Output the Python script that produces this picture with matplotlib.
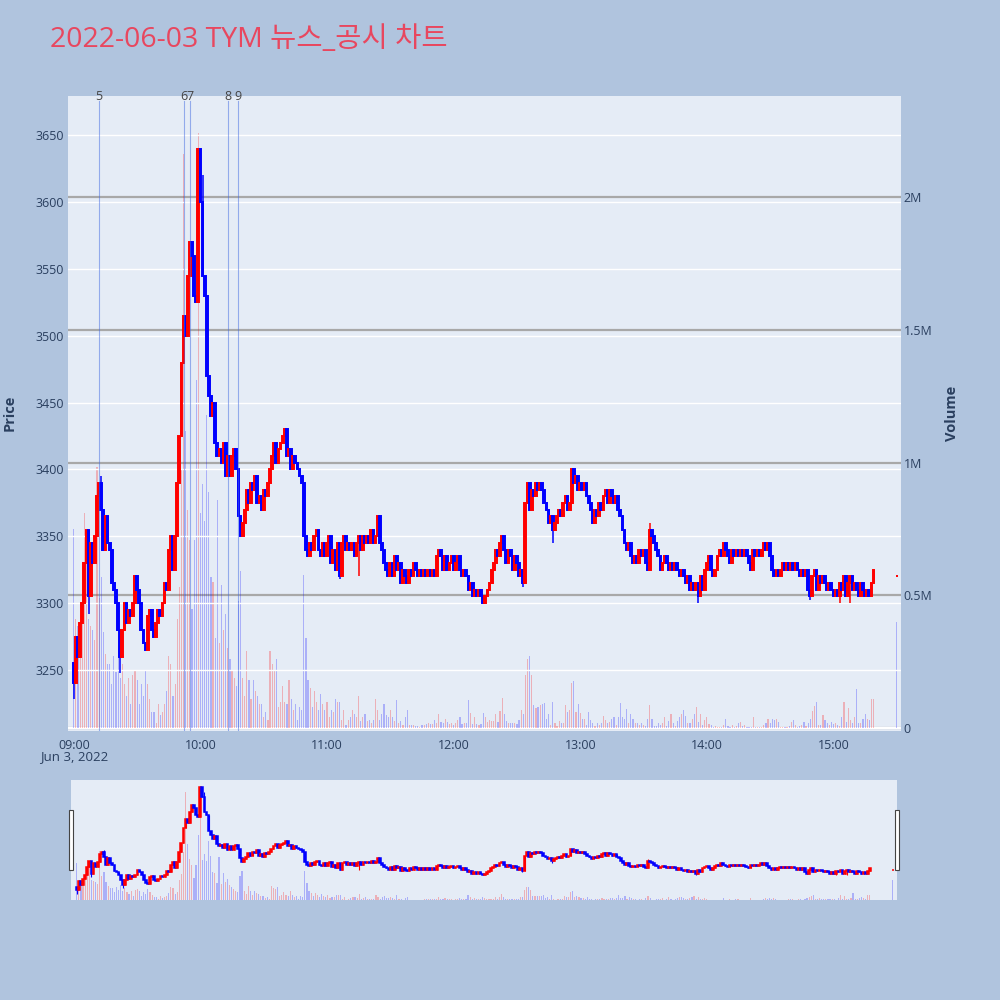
import matplotlib
matplotlib.use("Agg")
import matplotlib.pyplot as plt
from matplotlib.patches import Rectangle
from matplotlib.transforms import blended_transform_factory

plt.rcParams['font.family'] = ['Open Sans', 'Noto Sans CJK KR', 'DejaVu Sans']

TITLE = "2022-06-03 TYM 뉴스_공시 차트"
DATE_LABEL = "Jun 3, 2022"
hour_labels = ["09:00", "10:00", "11:00", "12:00", "13:00", "14:00", "15:00"]

# 1-minute candles 09:00 .. 15:19 (open = previous close)
first_open = 3255
closes = [
    3240, 3275, 3260, 3285, 3300, 3330, 3355, 3305, 3345, 3330,
    3350, 3380, 3390, 3370, 3340, 3365, 3345, 3340, 3315, 3310,
    3300, 3280, 3260, 3280, 3300, 3285, 3295, 3290, 3300, 3320,
    3310, 3300, 3280, 3270, 3265, 3290, 3295, 3280, 3275, 3285,
    3295, 3290, 3300, 3315, 3310, 3340, 3350, 3325, 3350, 3390,
    3425, 3480, 3515, 3500, 3545, 3570, 3560, 3530, 3525, 3640,
    3600, 3545, 3530, 3470, 3455, 3440, 3450, 3420, 3410, 3415,
    3405, 3420, 3395, 3410, 3395, 3410, 3415, 3400, 3365, 3350,
    3360, 3370, 3385, 3375, 3390, 3385, 3395, 3375, 3380, 3370,
    3385, 3380, 3390, 3400, 3410, 3420, 3405, 3415, 3420, 3425,
    3430, 3410, 3415, 3400, 3410, 3405, 3400, 3395, 3390, 3350,
    3340, 3335, 3345, 3340, 3350, 3355, 3340, 3335, 3345, 3335,
    3345, 3350, 3330, 3340, 3325, 3345, 3320, 3345, 3350, 3340,
    3345, 3340, 3345, 3335, 3345, 3350, 3340, 3350, 3345, 3350,
    3345, 3355, 3345, 3350, 3365, 3345, 3340, 3330, 3325, 3320,
    3330, 3320, 3335, 3325, 3330, 3315, 3325, 3320, 3315, 3325,
    3320, 3330, 3325, 3320, 3325, 3320, 3325, 3320, 3325, 3320,
    3325, 3320, 3335, 3340, 3335, 3325, 3335, 3325, 3330, 3335,
    3325, 3330, 3335, 3325, 3320, 3325, 3320, 3310, 3315, 3305,
    3310, 3305, 3310, 3305, 3300, 3305, 3310, 3315, 3325, 3330,
    3340, 3335, 3345, 3350, 3340, 3330, 3340, 3335, 3325, 3335,
    3330, 3320, 3325, 3315, 3375, 3390, 3370, 3385, 3380, 3390,
    3385, 3390, 3385, 3375, 3370, 3360, 3365, 3355, 3360, 3365,
    3370, 3365, 3375, 3380, 3370, 3375, 3400, 3390, 3395, 3385,
    3390, 3385, 3390, 3380, 3375, 3370, 3360, 3370, 3365, 3375,
    3370, 3380, 3385, 3375, 3385, 3380, 3375, 3380, 3370, 3365,
    3355, 3345, 3340, 3345, 3335, 3330, 3335, 3330, 3340, 3335,
    3340, 3330, 3325, 3355, 3350, 3345, 3340, 3335, 3325, 3330,
    3335, 3330, 3325, 3330, 3325, 3330, 3325, 3320, 3325, 3320,
    3315, 3320, 3310, 3315, 3310, 3315, 3305, 3320, 3310, 3325,
    3330, 3335, 3325, 3320, 3325, 3335, 3340, 3335, 3345, 3340,
    3335, 3330, 3340, 3335, 3340, 3335, 3340, 3335, 3340, 3335,
    3330, 3325, 3340, 3335, 3340, 3335, 3340, 3345, 3340, 3345,
    3335, 3325, 3320, 3325, 3320, 3325, 3330, 3325, 3330, 3325,
    3330, 3325, 3330, 3325, 3320, 3325, 3320, 3325, 3310, 3305,
    3320, 3325, 3310, 3320, 3315, 3320, 3315, 3310, 3315, 3310,
    3305, 3310, 3305, 3315, 3310, 3320, 3305, 3315, 3320, 3310,
    3315, 3310, 3305, 3315, 3310, 3305, 3310, 3305, 3315, 3325,
]
# volume per minute, thousands of shares
volumes_k = [
    750, 410, 385, 280, 470, 810, 740, 410, 385, 370,
    330, 985, 490, 570, 360, 280, 240, 240, 165, 270,
    210, 300, 190, 240, 165, 120, 190, 90, 200, 220,
    180, 90, 165, 120, 220, 165, 110, 60, 60, 20,
    90, 50, 60, 90, 140, 270, 240, 120, 165, 410,
    530, 970, 2160, 1120, 820, 710, 450, 710, 1310, 2240,
    810, 920, 780, 1180, 890, 570, 550, 340, 860, 320,
    540, 370, 430, 300, 260, 220, 190, 160, 480, 590,
    190, 120, 290, 180, 110, 180, 140, 120, 90, 90,
    40, 60, 30, 290, 240, 220, 260, 80, 100, 160,
    100, 90, 180, 110, 70, 90, 30, 80, 70, 575,
    340, 180, 150, 80, 140, 100, 70, 130, 90, 70,
    100, 40, 70, 60, 110, 100, 100, 30, 70, 10,
    30, 40, 70, 55, 40, 120, 25, 40, 55, 25,
    30, 20, 30, 110, 70, 30, 55, 90, 50, 40,
    70, 40, 25, 105, 20, 25, 10, 40, 70, 10,
    10, 10, 8, 8, 5, 10, 12, 15, 18, 15,
    15, 30, 20, 55, 24, 18, 33, 23, 17, 20,
    10, 20, 30, 40, 17, 20, 20, 105, 58, 17,
    40, 17, 11, 15, 58, 43, 23, 30, 26, 28,
    55, 24, 65, 115, 55, 28, 18, 20, 18, 20,
    15, 30, 70, 53, 200, 260, 270, 200, 86, 74,
    80, 86, 90, 93, 36, 55, 11, 100, 18, 8,
    28, 18, 20, 86, 61, 68, 170, 178, 61, 90,
    58, 36, 33, 11, 61, 30, 20, 8, 20, 11,
    18, 45, 30, 18, 24, 36, 43, 11, 43, 95,
    43, 36, 73, 18, 55, 36, 20, 20, 10, 18,
    11, 8, 36, 86, 36, 8, 8, 20, 11, 18,
    43, 8, 28, 53, 20, 8, 28, 43, 55, 70,
    45, 18, 20, 33, 55, 78, 23, 55, 11, 30,
    40, 15, 10, 5, 8, 5, 5, 5, 10, 33,
    8, 5, 13, 5, 8, 20, 24, 8, 10, 5,
    5, 5, 43, 3, 3, 3, 3, 10, 20, 36,
    20, 33, 30, 33, 24, 5, 5, 3, 3, 8,
    24, 30, 11, 5, 8, 11, 24, 8, 18, 36,
    65, 83, 99, 11, 11, 49, 30, 20, 11, 24,
    15, 20, 11, 8, 43, 99, 24, 74, 30, 20,
    40, 149, 20, 18, 36, 53, 36, 30, 110, 110,
]
# closing auction
auction_time = "15:30"
auction_price = 3320
auction_volume_k = 400

# notable wicks (minute index -> price)
wick_highs = {13: 3395, 59: 3640, 61: 3620, 144: 3365, 273: 3360}
wick_lows = {0: 3228, 7: 3292, 22: 3248, 126: 3318, 135: 3320, 213: 3312,
             227: 3345, 296: 3300, 349: 3302, 363: 3300, 368: 3300}

news_labels = ["5", "6", "7", "8", "9"]
news_times = ["09:12", "09:52", "09:55", "10:13", "10:18"]

price_ticks = [3250, 3300, 3350, 3400, 3450, 3500, 3550, 3600, 3650]
volume_ticks = [0, 500000, 1000000, 1500000, 2000000]
volume_tick_labels = ["0", "0.5M", "1M", "1.5M", "2M"]


def to_min(s):
    hh, mm = s.split(":")
    return (int(hh) - 9) * 60 + int(mm)


t = list(range(len(closes))) + [to_min(auction_time)]
o = [first_open] + closes[:-1] + [auction_price]
c = closes + [auction_price]
prev_c = [first_open] + c[:-1]
v = [k * 1000 for k in volumes_k + [auction_volume_k]]
hi = [max(a, b) for a, b in zip(o, c)]
lo = [min(a, b) for a, b in zip(o, c)]
for i, p in wick_highs.items():
    hi[i] = max(hi[i], p)
for i, p in wick_lows.items():
    lo[i] = min(lo[i], p)
cols = ['#ff0000' if cc >= oo else '#0000ff' for oo, cc in zip(o, c)]
vcols = ['#ff0000' if cc > pc else '#0000ff' for pc, cc in zip(prev_c, c)]

BG = '#b0c4de'
PLOT_BG = '#e5ecf6'
TXT = '#2a3f5f'
XLIM = (-2.75, 392.0)


def draw(ax_p, ax_v, body_w, edge_lw, wick_lw, vol_w):
    ax_v.bar(t, v, width=vol_w, color=vcols, alpha=0.25, linewidth=0, zorder=2)
    ax_p.vlines(t, lo, hi, colors=cols, lw=wick_lw, zorder=3)
    ax_p.bar(t, [abs(cc - oo) for oo, cc in zip(o, c)],
             bottom=[min(oo, cc) for oo, cc in zip(o, c)],
             width=body_w, color=cols, edgecolor=cols, linewidth=edge_lw, zorder=4)


fig = plt.figure(figsize=(10, 10), dpi=100, facecolor=BG)

# main panel
ax_v = fig.add_axes([0.068, 0.2695, 0.833, 0.6345])
ax_p = ax_v.twinx()
ax_v.set_facecolor(PLOT_BG)
ax_p.patch.set_visible(False)
for a in (ax_v, ax_p):
    for s in a.spines.values():
        s.set_visible(False)

draw(ax_p, ax_v, 0.85, 1.4, 1.1, 0.55)

ax_v.set_xlim(*XLIM)
ax_v.set_ylim(-9000, 2380000)
ax_p.set_ylim(3204.7, 3679.4)

ax_v.set_yticks(volume_ticks)
ax_v.set_yticklabels(volume_tick_labels)
ax_v.yaxis.tick_right()
ax_v.grid(axis='y', color='#a8a8a8', lw=1.6, zorder=0)
ax_v.axhline(0, color='white', lw=1.6, zorder=1)
ax_v.set_axisbelow(True)

ax_p.set_yticks(price_ticks)
ax_p.yaxis.tick_left()
ax_p.grid(axis='y', color='white', lw=1.0, zorder=0)
ax_p.set_axisbelow(True)

ax_v.set_xticks([to_min(h) for h in hour_labels])
ax_v.set_xticklabels(hour_labels)

for a in (ax_v, ax_p):
    a.tick_params(length=0, labelsize=9, colors=TXT)
ax_v.tick_params(axis='x', pad=6)
ax_v.tick_params(axis='y', pad=2)
ax_p.tick_params(axis='y', pad=3)
for lab in ax_v.get_yticklabels() + ax_p.get_yticklabels() + ax_v.get_xticklabels():
    lab.set_color(TXT)

# news markers
trans = blended_transform_factory(ax_p.transData, ax_p.transAxes)
for lab, tm in zip(news_labels, news_times):
    xm = to_min(tm)
    ax_p.axvline(xm, ymin=0, ymax=0.992, color='#4169e1', alpha=0.5, lw=0.8, zorder=5)
    ax_p.text(xm, 1.0, lab, transform=trans, ha='center', va='center',
              fontsize=9, color='#444444', zorder=6)

# range slider
ax_sv = fig.add_axes([0.071, 0.100, 0.826, 0.120])
ax_sp = ax_sv.twinx()
ax_sv.set_facecolor(PLOT_BG)
ax_sp.patch.set_visible(False)
draw(ax_sp, ax_sv, 0.85, 1.1, 0.8, 0.55)
ax_sv.set_xlim(*XLIM)
ax_sv.set_ylim(0, 2400000)
ax_sp.set_ylim(3203, 3667)
for a in (ax_sv, ax_sp):
    a.set_xticks([])
    a.set_yticks([])
    for s in a.spines.values():
        s.set_visible(False)

for x0 in (68.5, 894.5):
    fig.patches.append(Rectangle((x0 / 1000, 1 - 870 / 1000), 4.5 / 1000, 60 / 1000,
                                 transform=fig.transFigure, facecolor='white',
                                 edgecolor='#444444', lw=0.8, zorder=10))

# texts
fig.text(0.05, 0.960, TITLE, fontsize=20.5, color='#e8475f', ha='left', va='center')
fig.text(0.0738, 0.243, DATE_LABEL, fontsize=9.5, color=TXT, ha='center', va='center')
fig.text(0.010, 0.587, "Price", fontsize=10.5, fontweight='bold', color=TXT,
         rotation=90, ha='center', va='center')
fig.text(0.952, 0.587, "Volume", fontsize=10.5, fontweight='bold', color=TXT,
         rotation=90, ha='center', va='center')

fig.savefig("out.png", dpi=100, facecolor=BG)
